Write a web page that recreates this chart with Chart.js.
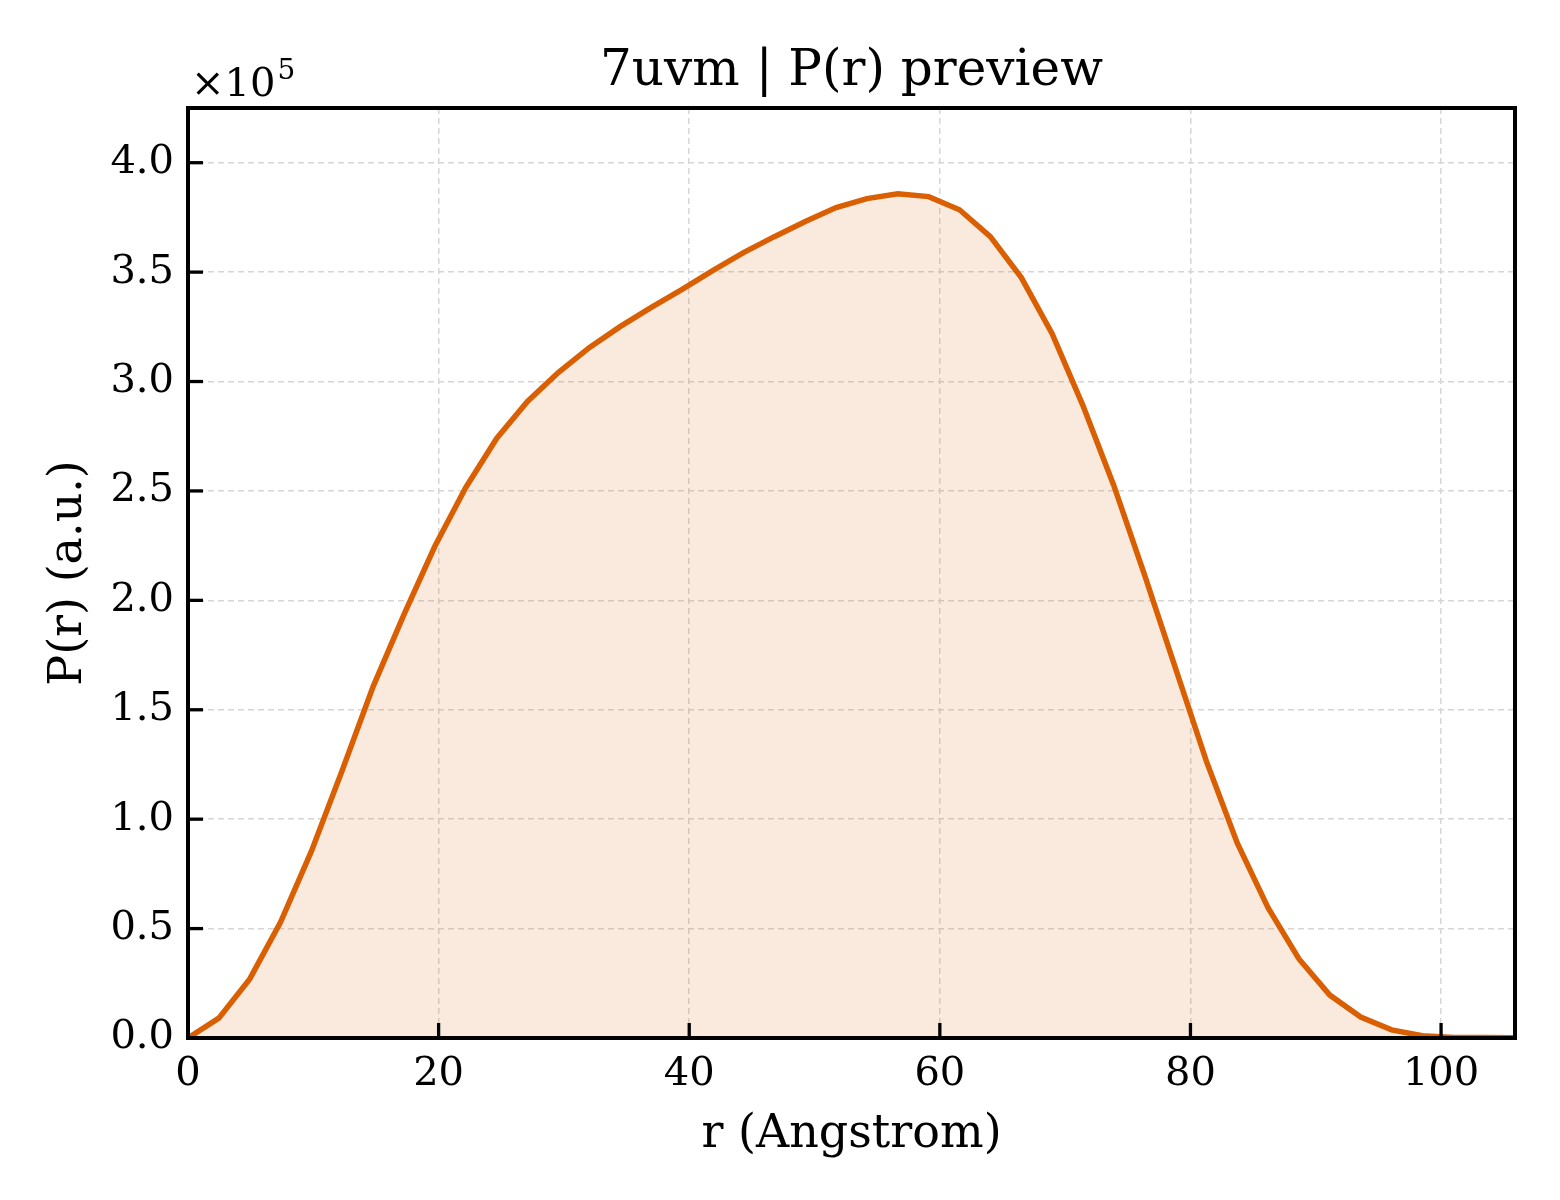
<!DOCTYPE html>
<html>
<head>
<meta charset="utf-8">
<script src="https://cdn.jsdelivr.net/npm/chart.js@4.4.0/dist/chart.umd.min.js"></script>
<style>
  html, body { margin: 0; padding: 0; background: #ffffff; }
  #wrap { width: 1560px; height: 1200px; }
</style>
</head>
<body>
<div id="wrap"><canvas id="c" width="1560" height="1200"></canvas></div>
<script>
// ---- data ----
const rValues = [0, 2.46, 4.93, 7.39, 9.85, 12.31, 14.78, 17.24, 19.70, 22.17,
  24.63, 27.09, 29.55, 32.02, 34.48, 36.94, 39.40, 41.87, 44.33, 46.79,
  49.26, 51.72, 54.18, 56.64, 59.11, 61.57, 64.03, 66.50, 68.96, 71.42,
  73.88, 76.35, 78.81, 81.27, 83.74, 86.20, 88.66, 91.12, 93.59, 96.05,
  98.51, 100.98, 103.44, 105.90];
const prValues = [0, 9100, 27000, 53000, 85400, 122400, 160700, 193600, 224700, 251600,
  274000, 290900, 304100, 315500, 325100, 333800, 342000, 350700, 358900, 366200,
  373100, 379500, 383600, 385800, 384500, 378500, 366200, 347500, 321900, 289000,
  252500, 211400, 168900, 126500, 89000, 59400, 36100, 19600, 9600, 3700,
  1000, 200, 200, 100];
const xTickValues = [0, 20, 40, 60, 80, 100];
const yTickValues = [0, 50000, 100000, 150000, 200000, 250000, 300000, 350000, 400000];
const titleText = '7uvm | P(r) preview';
const xLabel = 'r (Angstrom)';
const yLabel = 'P(r) (a.u.)';
const xMax = 105.9;
const yMax = 425000;

const FONT = "'DejaVu Serif', 'Liberation Serif', serif";
const LINE = '#d95f02';

const points = rValues.map((r, i) => ({ x: r, y: prValues[i] }));

const decorPlugin = {
  id: 'decor',
  afterDraw(chart) {
    const { ctx, chartArea: a, scales } = chart;
    ctx.save();
    // inward ticks
    ctx.strokeStyle = '#000';
    ctx.lineWidth = 3.3;
    ctx.lineCap = 'butt';
    scales.x.ticks.forEach(t => {
      const px = scales.x.getPixelForValue(t.value);
      ctx.beginPath(); ctx.moveTo(px, a.bottom); ctx.lineTo(px, a.bottom - 15); ctx.stroke();
    });
    scales.y.ticks.forEach(t => {
      const py = scales.y.getPixelForValue(t.value);
      ctx.beginPath(); ctx.moveTo(a.left, py); ctx.lineTo(a.left + 15, py); ctx.stroke();
    });
    // frame
    ctx.lineWidth = 4;
    ctx.strokeRect(a.left, a.top, a.right - a.left, a.bottom - a.top);
    // title
    ctx.fillStyle = '#000';
    ctx.font = '50px ' + FONT;
    ctx.textAlign = 'center';
    ctx.textBaseline = 'alphabetic';
    ctx.fillText(titleText, (a.left + a.right) / 2, 85);
    // offset text  x10^5
    ctx.textAlign = 'left';
    ctx.font = '40px ' + FONT;
    const base = '\u00d710';
    ctx.fillText(base, a.left + 3, 96);
    const w = ctx.measureText(base).width;
    ctx.font = '28px ' + FONT;
    ctx.fillText('5', a.left + 3 + w + 2, 79);
    ctx.restore();
  }
};

new Chart(document.getElementById('c'), {
  type: 'scatter',
  data: {
    datasets: [{
      data: points,
      showLine: true,
      borderColor: LINE,
      borderWidth: 5.5,
      backgroundColor: 'rgba(217,95,2,0.13)',
      fill: 'origin',
      pointRadius: 0,
      tension: 0
    }]
  },
  options: {
    responsive: false,
    devicePixelRatio: 1,
    animation: false,
    layout: { padding: { top: 108, right: 45, bottom: 0, left: 0 } },
    plugins: { legend: { display: false }, tooltip: { enabled: false }, title: { display: false } },
    scales: {
      x: {
        type: 'linear',
        min: 0, max: xMax,
        afterFit(scale) { scale.height = 162; },
        afterBuildTicks(scale) { scale.ticks = xTickValues.map(v => ({ value: v })); },
        ticks: {
          includeBounds: false,
          font: { family: FONT, size: 40 },
          color: '#000',
          padding: 13,
          maxRotation: 0,
          callback: v => String(v)
        },
        grid: { color: '#d6d6d6', lineWidth: 1.5, drawTicks: false },
        border: { display: false, dash: [6, 4] },
        title: { display: true, text: xLabel, font: { family: FONT, size: 46 }, color: '#000', padding: { top: 0, bottom: 37 } }
      },
      y: {
        type: 'linear',
        min: 0, max: yMax,
        afterFit(scale) { scale.width = 188; },
        afterBuildTicks(scale) { scale.ticks = yTickValues.map(v => ({ value: v })); },
        ticks: {
          includeBounds: false,
          font: { family: FONT, size: 40 },
          color: '#000',
          padding: 14,
          callback: v => (v / 100000).toFixed(1)
        },
        grid: { color: '#d6d6d6', lineWidth: 1.5, drawTicks: false },
        border: { display: false, dash: [6, 4] },
        title: { display: true, text: yLabel, font: { family: FONT, size: 46 }, color: '#000', padding: { top: 41, bottom: 0 } }
      }
    }
  },
  plugins: [decorPlugin]
});
</script>
</body>
</html>
